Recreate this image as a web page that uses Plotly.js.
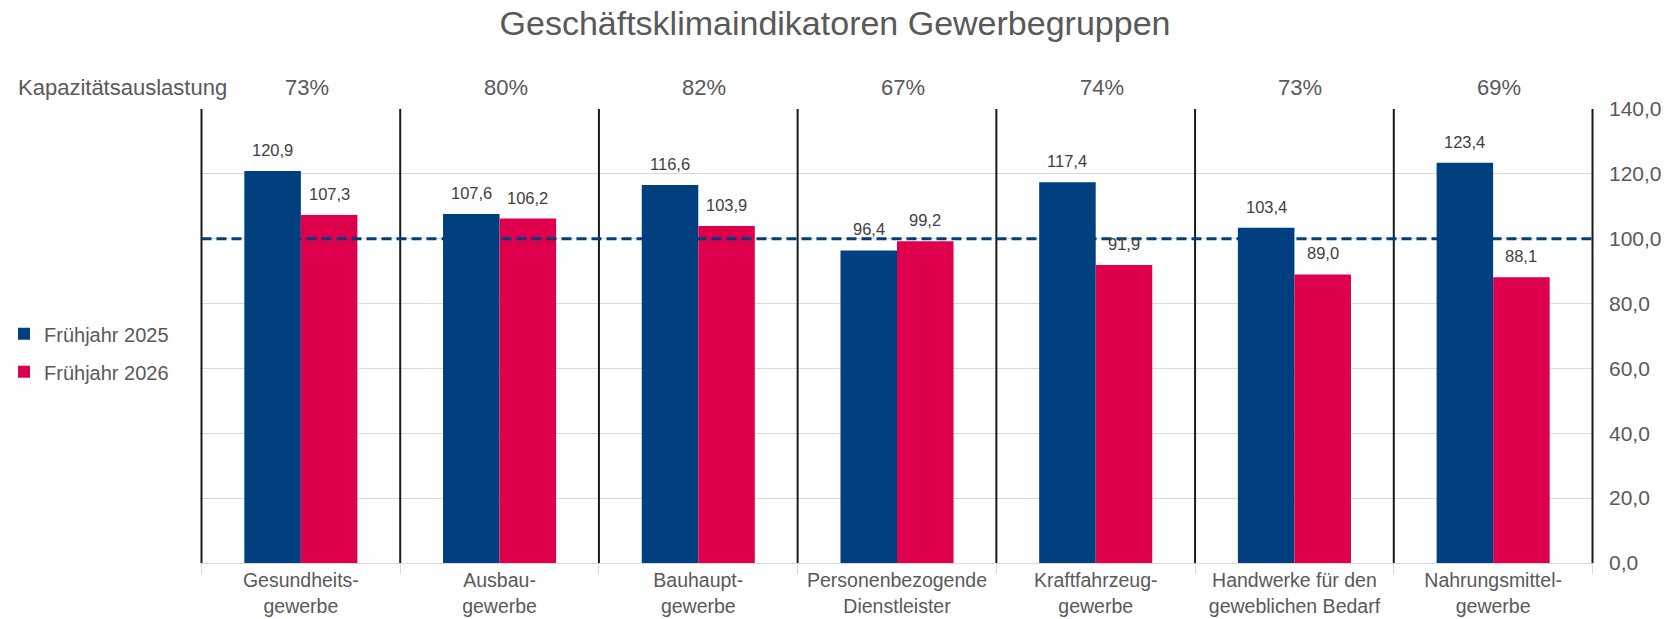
<!DOCTYPE html>
<html>
<head>
<meta charset="utf-8">
<script src="https://cdn.plot.ly/plotly-3.0.1.min.js"></script>
<style>html,body{margin:0;padding:0;background:#fff;}#chart{width:1670px;height:619px;}</style>
</head>
<body>
<div id="chart"></div>
<script>
const categories = [
  "Gesundheits-<br>gewerbe",
  "Ausbau-<br>gewerbe",
  "Bauhaupt-<br>gewerbe",
  "Personenbezogende<br>Dienstleister",
  "Kraftfahrzeug-<br>gewerbe",
  "Handwerke für den<br>geweblichen Bedarf",
  "Nahrungsmittel-<br>gewerbe"
];
const fruehjahr2025 = [120.9, 107.6, 116.6, 96.4, 117.4, 103.4, 123.4];
const fruehjahr2026 = [107.3, 106.2, 103.9, 99.2, 91.9, 89.0, 88.1];
const kapazitaet = ["73%", "80%", "82%", "67%", "74%", "73%", "69%"];
const referenceLevel = 100;

const FONT = "Liberation Sans, Arial, sans-serif";
const fmt = v => v.toFixed(1).replace('.', ',');
const BAR_HALF = 28.3;   // half of one bar's pixel width, to place labels over each bar

const trace1 = {
  type: 'bar', name: 'Frühjahr 2025', x: categories, y: fruehjahr2025,
  marker: {color: '#00407f'}, legendgroup: 'a', hoverinfo: 'y'
};
const trace2 = {
  type: 'bar', name: 'Frühjahr 2026', x: categories, y: fruehjahr2026,
  marker: {color: '#de004d'}, legendgroup: 'b', hoverinfo: 'y'
};

const shapes = [];
for (let i = 0; i <= categories.length; i++) {
  shapes.push({type: 'line', xref: 'x', yref: 'y', x0: i - 0.5, x1: i - 0.5, y0: 0, y1: 140,
    line: {color: '#1a1a1a', width: 2}});
}
shapes.push({type: 'line', xref: 'x', yref: 'y', x0: -0.5, x1: categories.length - 0.5,
  y0: referenceLevel, y1: referenceLevel, line: {color: '#003f7f', width: 3, dash: '10px,5px'}});

const annotations = [{
  xref: 'paper', yref: 'paper', x: -0.132, y: 1.048, xanchor: 'left', yanchor: 'middle',
  text: 'Kapazitätsauslastung', showarrow: false, font: {family: FONT, size: 22, color: '#595959'}
}];
kapazitaet.forEach((k, i) => annotations.push({
  xref: 'x', yref: 'paper', x: categories[i], y: 1.048, xanchor: 'center', yanchor: 'middle',
  xshift: 6, text: k, showarrow: false, font: {family: FONT, size: 22, color: '#595959'}
}));
[[fruehjahr2025, -1], [fruehjahr2026, 1]].forEach(([vals, side]) => {
  vals.forEach((v, i) => annotations.push({
    xref: 'x', yref: 'y', x: categories[i], y: v, xanchor: 'center', yanchor: 'middle',
    xshift: side * BAR_HALF, yshift: 21, text: fmt(v), showarrow: false,
    font: {family: FONT, size: 16.5, color: '#404040'}
  }));
});

const layout = {
  width: 1670, height: 619,
  margin: {l: 200, r: 76, t: 109, b: 56, autoexpand: false},
  paper_bgcolor: '#fff', plot_bgcolor: '#fff',
  separators: ',.',
  font: {family: FONT, color: '#595959'},
  title: {text: 'Geschäftsklimaindikatoren Gewerbegruppen', x: 0.5, xref: 'container',
    y: 0.962, yref: 'container', yanchor: 'middle',
    font: {family: FONT, size: 34, color: '#595959'}},
  barmode: 'group', bargap: 0.431, bargroupgap: 0,
  showlegend: true,
  legend: {x: -0.1406, y: 0.463, xanchor: 'left', yanchor: 'middle', orientation: 'v',
    traceorder: 'grouped', tracegroupgap: 9,
    font: {family: FONT, size: 20, color: '#595959'}, bgcolor: 'rgba(0,0,0,0)'},
  xaxis: {type: 'category', showgrid: false, showline: true, linecolor: '#d9d9d9', linewidth: 1,
    ticks: 'outside', tickson: 'boundaries', ticklen: 10, tickcolor: '#d9d9d9',
    tickfont: {family: FONT, size: 19.5, color: '#595959'}, fixedrange: true, automargin: false},
  yaxis: {side: 'right', range: [0, 140], dtick: 20, tickformat: '.1f', showgrid: true,
    gridcolor: '#d9d9d9', gridwidth: 1, zeroline: false, showline: false,
    ticklabelstandoff: 14, automargin: false,
    tickfont: {family: FONT, size: 21, color: '#595959'}, fixedrange: true},
  shapes: shapes,
  annotations: annotations
};

Plotly.newPlot('chart', [trace1, trace2], layout, {displayModeBar: false, staticPlot: true});
</script>
</body>
</html>
